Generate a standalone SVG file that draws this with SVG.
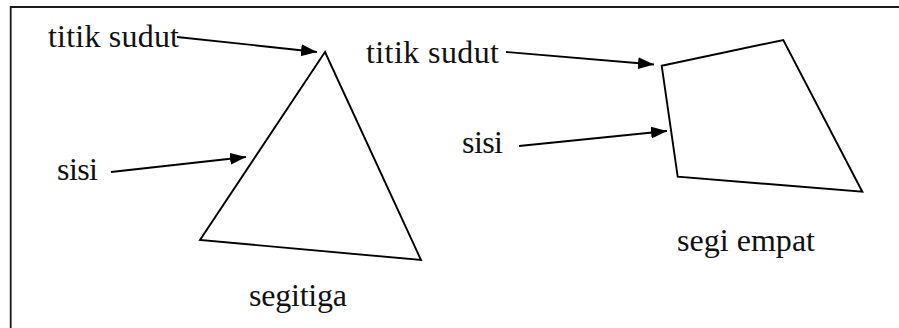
<svg xmlns="http://www.w3.org/2000/svg" width="899" height="328" viewBox="0 0 899 328">
  <style>
    .frame { fill: none; stroke: #1a1a1a; stroke-width: 1.8; }
    .shape { fill: none; stroke: #000; stroke-width: 1.9; stroke-linejoin: miter; }
    .arrow { fill: none; stroke: #000; stroke-width: 1.8; marker-end: url(#head); }
    .label { font-family: 'Liberation Serif', 'DejaVu Serif', serif; font-size: 32px; fill: #111; }
  </style>
  <defs>
    <marker id="head" markerUnits="userSpaceOnUse" markerWidth="17" markerHeight="13" refX="16" refY="6" orient="auto">
      <path d="M0,0 L16,6 L0,12 Z" fill="#000"/>
    </marker>
  </defs>

  <rect width="899" height="328" fill="#fff"/>
  <!-- page frame: only the top and left edges fall inside the view -->
  <path class="frame" d="M10.7,330 V7 H901"/>

  <g id="segitiga">
    <polygon class="shape" points="325,52 200,240 421,260"/>
    <text class="label" x="249" y="306" textLength="98" lengthAdjust="spacing">segitiga</text>
  </g>

  <g id="segi-empat">
    <polygon class="shape" points="661.7,65.7 783.3,40 862.3,191.7 677.7,176.7"/>
    <text class="label" x="677" y="251" textLength="138" lengthAdjust="spacing">segi empat</text>
  </g>

  <g id="label-titik-sudut-1">
    <text class="label" x="48" y="47" textLength="131" lengthAdjust="spacing">titik sudut</text>
  </g>
  <g id="label-sisi-1">
    <text class="label" x="57" y="180" textLength="41" lengthAdjust="spacing">sisi</text>
  </g>
  <g id="label-titik-sudut-2">
    <text class="label" x="366" y="63" textLength="133" lengthAdjust="spacing">titik sudut</text>
  </g>
  <g id="label-sisi-2">
    <text class="label" x="462" y="153" textLength="41" lengthAdjust="spacing">sisi</text>
  </g>

  <g id="connectors">
    <line class="arrow" x1="177" y1="37" x2="317" y2="52"/>
    <line class="arrow" x1="111" y1="172" x2="246" y2="157"/>
    <line class="arrow" x1="506" y1="52" x2="654" y2="64.5"/>
    <line class="arrow" x1="519" y1="146" x2="667" y2="131"/>
  </g>
</svg>
